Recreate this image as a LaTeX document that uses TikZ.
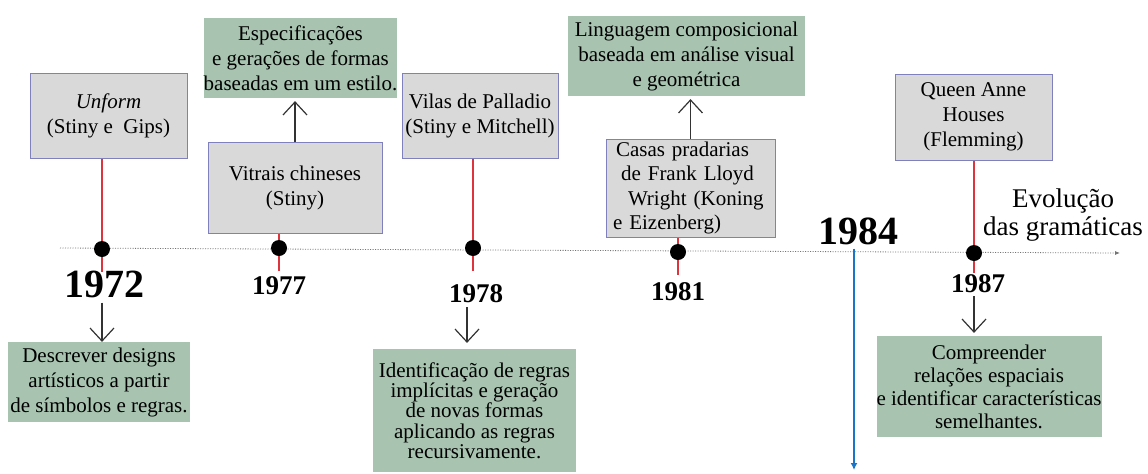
\documentclass[tikz,border=0pt]{standalone}
\usepackage{fontspec}
\setmainfont{Liberation Serif}
\usetikzlibrary{arrows.meta}
\definecolor{boxgray}{RGB}{217,217,217}
\definecolor{boxedge}{RGB}{128,128,188}
\definecolor{sage}{RGB}{168,196,176}
\definecolor{tickred}{RGB}{222,52,62}
\definecolor{lineblue}{RGB}{24,118,200}
\begin{document}
\begin{tikzpicture}
[x=2pt, y=-2pt,
 font=\fontsize{42}{50}\selectfont,
 work/.style={draw=boxedge, fill=boxgray, line width=2pt, inner sep=0pt, align=center},
 goal/.style={fill=sage, inner sep=0pt, align=center},
 year/.style={font=\bfseries\fontsize{54}{54}\selectfont, inner sep=0pt},
 bigyear/.style={font=\bfseries\fontsize{80}{80}\selectfont, inner sep=0pt},
 tick/.style={draw=tickred, line width=3pt},
 dot/.style={circle, fill=black, minimum size=32pt, inner sep=0pt},
 pointer/.style={-{Straight Barb[length=26pt,width=48pt]}, line width=2.4pt, draw=black!80},
 axis/.style={dash pattern=on 2pt off 3pt, draw=black!55, line width=1.6pt, -{Latex[length=10pt,width=8pt]}}]
\useasboundingbox (0,0) rectangle (1148,473);
% time axis
\coordinate (axstart) at (60,248);
\coordinate (axend) at (1120,253);
\draw[axis] (axstart) -- (axend);
\node[align=center, font=\fontsize{54}{56}\selectfont, inner sep=0pt] (evol) at (1063,215) {Evolução\\das gramáticas};
% dots
\node[dot] (d72) at (102,249) {};
\node[dot] (d77) at (279,248) {};
\node[dot] (d78) at (473,248) {};
\node[dot] (d81) at (678,252) {};
\node[dot] (d87) at (974,253) {};
% years
\node[bigyear] (y72) at (104,284) {1972};
\node[year] (y77) at (279,286) {1977};
\node[year] (y78) at (476,294) {1978};
\node[year] (y81) at (678,292) {1981};
\node[bigyear] (y84) at (858,231) {1984};
\node[year] (y87) at (978,284) {1987};
% grammars
\node[work, minimum width=314pt, minimum height=170pt] (unform) at (108.5,115.5) {\textit{Unform}\\(Stiny e\ \ Gips)};
\node[work, minimum width=348pt, minimum height=182pt] (vitrais) at (295,187.5) {Vitrais chineses\\(Stiny)};
\node[work, minimum width=312pt, minimum height=170pt] (vilas) at (480,115.5) {Vilas de Palladio\\(Stiny e Mitchell)};
\node[work, minimum width=338pt, minimum height=196pt, text width=310pt, align=left, font=\fontsize{42}{48.6}\selectfont] (casas) at (690.5,188)
  {\hspace*{6pt}Casas pradarias\\\hspace*{16pt}de Frank Lloyd\\\hspace*{30pt}Wright (Koning\\e Eizenberg)};
\node[work, minimum width=314pt, minimum height=172pt] (queen) at (973.5,117) {Queen Anne\\Houses\\(Flemming)};
% goals
\node[goal, minimum width=370pt, minimum height=160pt] (espec) at (300.5,58) {Especificações\\e gerações de formas\\baseadas em um estilo.};
\node[goal, minimum width=474pt, minimum height=160pt] (ling) at (686.5,56) {Linguagem composicional\\baseada em análise visual\\e geométrica};
\node[goal, minimum width=364pt, minimum height=160pt] (descr) at (99,382) {Descrever designs\\artísticos a partir\\de símbolos e regras.};
\node[goal, minimum width=406pt, minimum height=246pt, font=\fontsize{42}{40.6}\selectfont] (ident) at (474.5,410.5)
  {Identificação de regras\\implícitas e geração\\de novas formas\\aplicando as regras\\recursivamente.};
\node[goal, minimum width=432pt, minimum height=202pt, font=\fontsize{42}{46}\selectfont] (compr) at (989,386.5)
  {Compreender\\relações espaciais\\e identificar características\\semelhantes.};
% red ticks
\draw[tick] (unform.south -| d72) -- (d72.north);
\draw[tick] (d72.south) -- ++(0,15);
\draw[tick] (vitrais.south -| d77) -- (d77.north);
\draw[tick] (d77.south) -- ++(0,15);
\draw[tick] (vilas.south -| d78) -- (d78.north);
\draw[tick] (d78.south) -- ++(0,15);
\draw[tick] (casas.south -| d81) -- (d81.north);
\draw[tick] (d81.south) -- ++(0,15);
\draw[tick] (queen.south -| d87) -- (d87.north);
\draw[tick] (d87.south) -- ++(0,12);
% arrows
\draw[pointer, shorten >=6pt] (vitrais.north) -- (vitrais.north |- espec.south);
\draw[pointer, shorten >=6pt] (casas.north) -- (casas.north |- ling.south);
\draw[pointer] ([yshift=-10pt]y72.south -| d72) -- (descr.north -| d72);
\draw[pointer, shorten >=12pt] ([xshift=-12pt,yshift=-8pt]y78.south -| d78) -- ([xshift=-12pt]ident.north -| d78);
\draw[pointer, shorten >=6pt] ([yshift=-6pt]y87.south -| d87) -- (compr.north -| d87);
\coordinate (blueend) at (854,470);
\draw[lineblue, line width=3pt, -{Latex[length=14pt,width=14pt]}] ([yshift=-8pt]y84.south -| blueend) -- (blueend);
\end{tikzpicture}
\end{document}
